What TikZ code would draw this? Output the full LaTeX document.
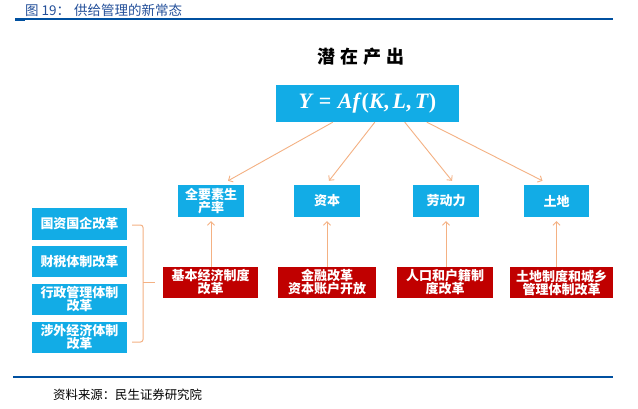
\documentclass[tikz,border=0pt]{standalone}
\usepackage{fontspec}
\newfontfamily\cjk{Noto Sans CJK SC}
\newfontfamily\fmlfont{Liberation Serif}
\usetikzlibrary{arrows.meta,calc}
\definecolor{boxblue}{HTML}{12ACE6}
\definecolor{boxred}{HTML}{C00000}
\definecolor{arr}{HTML}{F4B183}
\definecolor{navy}{HTML}{0050A0}
\definecolor{headtxt}{HTML}{24509A}
\newsavebox{\fmlsave}
\tikzset{
  bluebox/.style={fill=boxblue,text=white,font=\cjk\bfseries\fontsize{13}{15}\selectfont,align=center,inner sep=0pt},
  redbox/.style={fill=boxred,text=white,font=\cjk\bfseries\fontsize{13}{15}\selectfont,align=center,inner sep=0pt},
  conn/.style={draw=arr,line width=0.9pt,-{Straight Barb[length=3.5pt,width=7pt]}},
  rule/.style={draw=navy,line width=2pt},
  fmlbox/.style={fill=boxblue,text=white,minimum width=183pt,minimum height=37pt,inner sep=0pt}
}
\begin{document}
\sbox{\fmlsave}{\color{white}\fmlfont\fontsize{22}{26}\selectfont\bfseries{\itshape Y}\hspace{0.3em}=\hspace{0.3em}{\itshape Af\/}({\itshape K},\hspace{0.15em}{\itshape L},\hspace{0.15em}{\itshape T\/})}%
\begin{tikzpicture}[x=1pt,y=-1pt]
\useasboundingbox (0,0) rectangle (638,408);
\fill[white] (0,0) rectangle (638,408);
% header
\node[anchor=west,text=headtxt,font=\cjk\fontsize{13.5}{15}\selectfont,inner sep=0pt] (hdr) at (25,10) {图 19：\hspace{4pt}供给管理的新常态};
\coordinate (tl) at (15,19);
\coordinate (tr) at (613,19);
\draw[rule,line width=1.6pt] (tl) -- (tr);
\fill[navy] (15,19) rectangle (25,21);
% title
\node[font=\cjk\bfseries\fontsize{18}{20}\selectfont,inner sep=0pt] (title) at (361,57) {潜\hspace{5pt}在\hspace{5pt}产\hspace{5pt}出};
% formula
\node[fmlbox] (fml) at (367.5,103.5) {\usebox{\fmlsave}};
% second row
\node[bluebox,minimum width=66pt,minimum height=32pt] (tfp) at (211,201) {全要素生\\[-2pt]产率};
\node[bluebox,minimum width=66pt,minimum height=32pt] (cap) at (327,201) {资本};
\node[bluebox,minimum width=66pt,minimum height=32pt] (lab) at (446,201) {劳动力};
\node[bluebox,minimum width=65pt,minimum height=32pt] (land) at (556.5,201) {土地};
% red row
\node[redbox,minimum width=95pt,minimum height=31pt] (r1) at (210.5,282.5) {基本经济制度\\[-2pt]改革};
\node[redbox,minimum width=98pt,minimum height=31pt] (r2) at (327,282.5) {金融改革\\[-2pt]资本账户开放};
\node[redbox,minimum width=96pt,minimum height=31pt] (r3) at (445,282.5) {人口和户籍制\\[-2pt]度改革};
\node[redbox,minimum width=103pt,minimum height=31pt] (r4) at (561.5,282.5) {土地制度和城乡\\[-2pt]管理体制改革};
% left column
\node[bluebox,minimum width=95pt,minimum height=32pt] (l1) at (79.5,224) {国资国企改革};
\node[bluebox,minimum width=95pt,minimum height=31pt] (l2) at (79.5,261.5) {财税体制改革};
\node[bluebox,minimum width=95pt,minimum height=31pt] (l3) at (79.5,299.5) {行政管理体制\\[-2pt]改革};
\node[bluebox,minimum width=95pt,minimum height=31pt] (l4) at (79.5,337.5) {涉外经济体制\\[-2pt]改革};
% diagonal arrows
\draw[conn] ($(fml.south west)+(57,0)$) -- ($(tfp.north)+(17,-4)$);
\draw[conn] ($(fml.south west)+(99,0)$) -- ($(cap.north)+(2,-4)$);
\draw[conn] ($(fml.south west)+(129,0)$) -- ($(lab.north)+(6,-4)$);
\draw[conn] ($(fml.south west)+(151,0)$) -- ($(land.north)+(-14,-4)$);
% vertical arrows
\draw[conn] (tfp.south |- r1.north) -- ($(tfp.south)+(0,4)$);
\draw[conn] (cap.south |- r2.north) -- ($(cap.south)+(0,4)$);
\draw[conn] (lab.south |- r3.north) -- ($(lab.south)+(0,4)$);
\draw[conn] (land.south |- r4.north) -- ($(land.south)+(0,4)$);
% brace
\draw[arr,line width=1pt,rounded corners=2.5pt] ($(l1.east)+(5,1)$) -- (143,225) -- (143,342) -- ($(l4.east)+(5,4.5)$);
\draw[arr,line width=1pt] (143,282) -- ($(r1.west)+(-8,-0.5)$);
% footer
\coordinate (bl) at (13,377);
\coordinate (br) at (613,377);
\draw[rule,line width=2.4pt] (bl) -- (br);
\node[anchor=west,font=\cjk\fontsize{12.4}{14}\selectfont,inner sep=0pt] (src) at (53,395) {资料来源：民生证券研究院};
\end{tikzpicture}
\end{document}
